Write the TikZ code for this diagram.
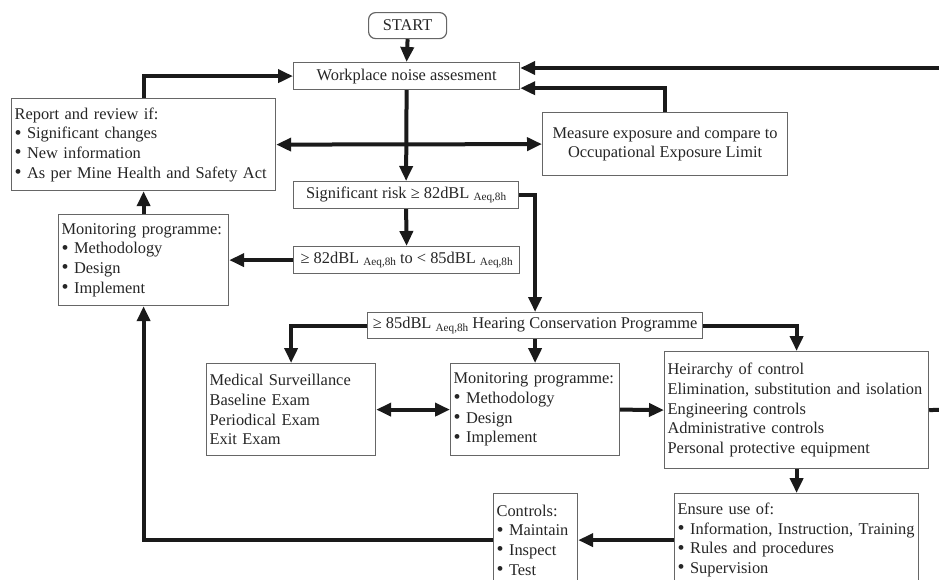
\documentclass[tikz,border=0pt]{standalone}
\usepackage{fontspec}
\setmainfont{Liberation Serif}
\usetikzlibrary{arrows.meta,calc}
\definecolor{ink}{HTML}{1A1A1A}
\definecolor{txt}{HTML}{262626}
\definecolor{edgegray}{HTML}{666666}
\newcommand\aeqsub{\ {\fontsize{11.2}{12}\selectfont\raisebox{-2.5pt}{Aeq,8h}}}
\newcommand\mainfs{\fontsize{16.4}{19.6}\selectfont}
\newcommand\bul{{\fontsize{20}{19.6}\selectfont\raisebox{-0.4pt}{•}}}
\begin{document}
\begin{tikzpicture}[x=1pt,y=-1pt,
  box/.style={draw=edgegray, line width=1.2pt, inner xsep=3pt, inner ysep=0pt, text=txt, font=\mainfs, anchor=north west},
  lbox/.style={box, align=left},
  cbox/.style={box, align=center},
  arr/.style={draw=ink, line width=4pt, -{Triangle[length=15pt,width=13pt]}},
  darr/.style={draw=ink, line width=4pt, {Triangle[length=15pt,width=13pt]}-{Triangle[length=15pt,width=13pt]}},
  plain/.style={draw=ink, line width=4pt}]
\path[use as bounding box] (0,0) rectangle (939,579);
\clip (0,0) rectangle (939,579);
\fill[white] (0,0) rectangle (939,579);

\node[cbox, rounded corners=7pt, minimum width=78pt, minimum height=26pt] (start) at (368,12) {START};
\node[cbox, minimum width=226pt, minimum height=27pt] (work) at (293,62) {Workplace noise assesment};
\node[lbox, text width=258pt, minimum height=92pt] (report) at (11,98)
  {Report and review if:\\ \bul{} Significant changes\\ \bul{} New information\\ \bul{} As per Mine Health and Safety Act};
\node[cbox, minimum width=245pt, minimum height=63pt] (measure) at (542,112)
  {Measure exposure and compare to\\ Occupational Exposure Limit};
\node[cbox, minimum width=225pt, minimum height=27pt] (sig) at (293,181) {Significant risk ≥ 82dBL\aeqsub};
\node[cbox, minimum width=226pt, minimum height=27pt] (range) at (293,246) {≥ 82dBL\aeqsub{} to < 85dBL\aeqsub};
\node[lbox, text width=164pt, minimum height=91pt] (mon1) at (58,214)
  {Monitoring programme:\\ \bul{} Methodology\\ \bul{} Design\\ \bul{} Implement};
\node[cbox, minimum width=335pt, minimum height=26pt] (hcp) at (367,312) {≥ 85dBL\aeqsub{} Hearing Conservation Programme};
\node[lbox, text width=163pt, minimum height=92pt] (med) at (206,363)
  {Medical Surveillance\\ Baseline Exam\\ Periodical Exam\\ Exit Exam};
\node[lbox, text width=163pt, minimum height=92pt] (mon2) at (450,363)
  {Monitoring programme:\\ \bul{} Methodology\\ \bul{} Design\\ \bul{} Implement};
\node[lbox, text width=258pt, minimum height=117pt] (hier) at (664,351)
  {Heirarchy of control\\ Elimination, substitution and isolation\\ Engineering controls\\ Administrative controls\\ Personal protective equipment};
\node[lbox, text width=238pt, minimum height=93pt] (ensure) at (674,493)
  {Ensure use of:\\ \bul{} Information, Instruction, Training\\ \bul{} Rules and procedures\\ \bul{} Supervision};
\node[lbox, text width=78pt, minimum height=93pt] (controls) at (493,493)
  {Controls:\\ \bul{} Maintain\\ \bul{} Inspect\\ \bul{} Test};

\coordinate (rightA) at (950,68);
\coordinate (rightB) at (950,409.5);

\draw[arr] (start.south) -- (work.north);
\draw[arr] (work.south) -- (sig.north);
\draw[arr] (report.north) |- (work.west);
\draw[arr] (rightA) -- (rightA -| work.east);
\draw[arr] (measure.north) |- ([yshift=2pt]work.south east);
\draw[darr] (report.east) -- (measure.west);
\draw[arr] (sig.south) -- (range.north);
\draw[arr] (range.west) -- (mon1.east);
\draw[arr] (mon1.north) -- (report.south);
\draw[arr] (sig.east) -| (hcp.north);
\draw[arr] (hcp.west) -| (med.north);
\draw[arr] (hcp.south) -- (mon2.north);
\draw[darr] (med.east) -- (mon2.west);
\draw[arr] (mon2.east) -- (hier.west);
\draw[arr] (hcp.east) -| (hier.north);
\draw[plain] (hier.east) -- (rightB);
\draw[arr] (hier.south) -- (ensure.north);
\draw[arr] (ensure.west) -- (controls.east);
\draw[arr] (controls.west) -| (mon1.south);
\end{tikzpicture}
\end{document}
